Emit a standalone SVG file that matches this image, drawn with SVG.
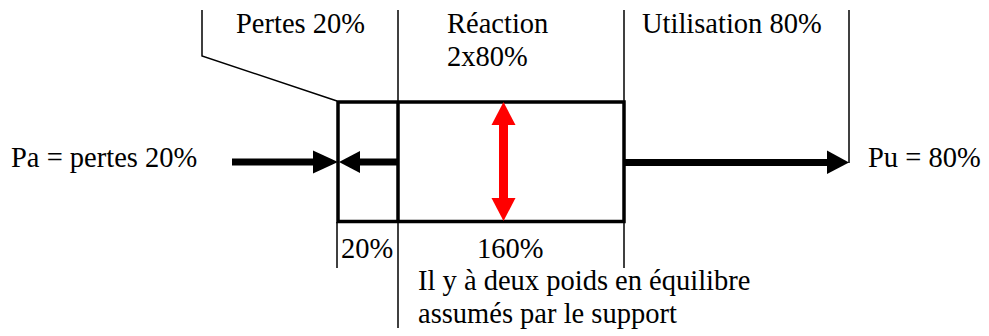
<svg xmlns="http://www.w3.org/2000/svg" width="989" height="336" viewBox="0 0 989 336">
<style>
.thin { stroke: #000; stroke-width: 1.5; fill: none; }
.thick { stroke: #000; stroke-width: 3.5; fill: none; }
</style>
<rect width="989" height="336" fill="#fff"/>
<g id="guides">
<polyline class="thin" points="202,10 202,56 337,101"/>
<line class="thin" x1="398" y1="10" x2="398" y2="328"/>
<line class="thin" x1="624" y1="10" x2="624" y2="268"/>
<line class="thin" x1="849" y1="10" x2="849" y2="163"/>
<line class="thin" x1="337" y1="222" x2="337" y2="268"/>
</g>
<g id="box">
<rect class="thick" x="338" y="102" width="286" height="119.5"/>
<line class="thick" x1="398" y1="102" x2="398" y2="221.5"/>
</g>
<g id="connectors">
<g id="arrow-in">
<line x1="232" y1="162" x2="314" y2="162" stroke="#000" stroke-width="7"/>
<polygon points="313,150.5 338,162 313,173.5" fill="#000"/>
</g>
<g id="arrow-loss">
<line x1="398" y1="162" x2="358" y2="162" stroke="#000" stroke-width="7"/>
<polygon points="360,151 339,162 360,173" fill="#000"/>
</g>
<g id="arrow-out">
<line x1="624" y1="162.5" x2="828" y2="162.5" stroke="#000" stroke-width="7"/>
<polygon points="827,150.5 849,162.5 827,174" fill="#000"/>
</g>
<g id="arrow-reaction">
<line x1="503.5" y1="122" x2="503.5" y2="201" stroke="#ff0000" stroke-width="9"/>
<polygon points="491.5,125 503.5,102 515.5,125" fill="#ff0000"/>
<polygon points="491.5,198 503.5,221 515.5,198" fill="#ff0000"/>
</g>
</g>
<g id="labels" font-family="'Liberation Serif', 'Times New Roman', serif" font-size="28.5" fill="#000">
<text x="236" y="33">Pertes 20%</text>
<text x="447" y="33">Réaction</text>
<text x="447" y="66">2x80%</text>
<text x="642" y="33">Utilisation 80%</text>
<text x="11" y="167">Pa = pertes 20%</text>
<text x="868" y="167">Pu = 80%</text>
<text x="341" y="258">20%</text>
<text x="477" y="258">160%</text>
<text x="418" y="290">Il y à deux poids en équilibre</text>
<text x="418" y="323">assumés par le support</text>
</g>
</svg>
